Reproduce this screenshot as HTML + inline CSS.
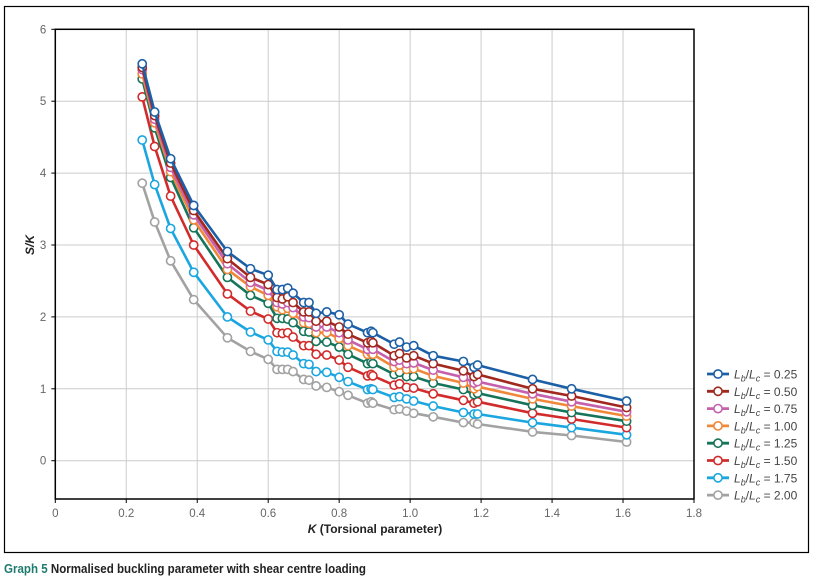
<!DOCTYPE html>
<html><head><meta charset="utf-8"><style>
body{margin:0;background:#fff;width:818px;height:578px;overflow:hidden;font-family:"Liberation Sans",sans-serif}
</style></head><body>
<svg id="chart" width="818" height="578" xmlns="http://www.w3.org/2000/svg" font-family="Liberation Sans, sans-serif">
<rect x="4.5" y="6.5" width="804" height="546" fill="none" stroke="#000" stroke-width="1.2"/>
<g id="grid"></g>
<g id="series"></g>
<g id="axes"></g>
<text transform="translate(34,245) rotate(-90)" text-anchor="middle" font-size="12" font-weight="bold" font-style="italic" fill="#222">S/K</text>
<text x="375" y="533" text-anchor="middle" font-size="12" font-weight="bold" fill="#222"><tspan font-style="italic">K</tspan> (Torsional parameter)</text>
<g id="legend"></g>
<text x="4" y="573" font-size="12.5" font-weight="bold" fill="#222" textLength="362" lengthAdjust="spacingAndGlyphs"><tspan fill="#1e7b6e">Graph 5</tspan> Normalised buckling parameter with shear centre loading</text>
</svg>
<script>
const kValues=[0.245,0.28,0.325,0.39,0.485,0.55,0.60,0.625,0.64,0.655,0.67,0.70,0.715,0.735,0.765,0.80,0.825,0.88,0.89,0.895,0.955,0.97,0.99,1.01,1.065,1.15,1.18,1.19,1.345,1.455,1.61];
const s025=[5.52,4.85,4.2,3.55,2.91,2.67,2.58,2.38,2.38,2.4,2.33,2.2,2.2,2.05,2.07,2.03,1.9,1.78,1.8,1.78,1.62,1.65,1.58,1.6,1.46,1.38,1.3,1.33,1.13,1.0,0.83];
const s050=[5.47,4.8,4.14,3.48,2.81,2.55,2.45,2.27,2.25,2.28,2.2,2.07,2.07,1.94,1.94,1.86,1.76,1.64,1.66,1.64,1.46,1.49,1.43,1.46,1.35,1.25,1.17,1.2,1.0,0.9,0.74];
const s075=[5.44,4.75,4.08,3.42,2.74,2.48,2.37,2.2,2.18,2.2,2.13,2.0,1.99,1.86,1.86,1.78,1.68,1.55,1.58,1.55,1.38,1.4,1.35,1.36,1.26,1.16,1.08,1.1,0.93,0.82,0.68];
const s100=[5.38,4.7,4.02,3.35,2.66,2.42,2.3,2.14,2.1,2.12,2.05,1.92,1.91,1.78,1.78,1.7,1.6,1.48,1.5,1.48,1.3,1.33,1.27,1.28,1.18,1.08,1.0,1.03,0.86,0.76,0.62];
const s125=[5.31,4.63,3.94,3.24,2.55,2.3,2.19,1.98,1.98,1.97,1.92,1.8,1.79,1.66,1.65,1.58,1.48,1.35,1.37,1.35,1.2,1.23,1.17,1.17,1.08,0.99,0.92,0.94,0.77,0.67,0.55];
const s150=[5.06,4.37,3.68,3.0,2.32,2.08,1.97,1.78,1.77,1.78,1.72,1.6,1.6,1.48,1.47,1.4,1.3,1.18,1.2,1.18,1.05,1.07,1.02,1.01,0.93,0.84,0.8,0.82,0.66,0.58,0.46];
const s175=[4.46,3.84,3.23,2.62,2.0,1.79,1.68,1.52,1.51,1.51,1.47,1.35,1.34,1.24,1.23,1.16,1.1,0.99,1.0,0.99,0.88,0.89,0.86,0.83,0.76,0.67,0.65,0.65,0.53,0.46,0.36];
const s200=[3.86,3.32,2.78,2.24,1.71,1.52,1.41,1.27,1.27,1.27,1.24,1.13,1.12,1.04,1.02,0.96,0.91,0.8,0.82,0.8,0.71,0.72,0.69,0.66,0.61,0.53,0.53,0.51,0.40,0.35,0.26];
const seriesLabels=["0.25","0.50","0.75","1.00","1.25","1.50","1.75","2.00"];
const xTicks=[0,0.2,0.4,0.6,0.8,1.0,1.2,1.4,1.6,1.8];
const xTickLabels=["0","0.2","0.4","0.6","0.8","1.0","1.2","1.4","1.6","1.8"];
const yTicks=[0,1,2,3,4,5,6];

const allSeries=[s025,s050,s075,s100,s125,s150,s175,s200];
const colors=["#1b5fa6","#a1281f","#c560ad","#f0883a","#15745a","#d22b2b","#1ba6e0","#a2a2a2"];
const L=55.3,R=694,T=29.3,B=499;
const xS=v=>L+v*(R-L)/1.8;
const yS=v=>460.7-v*71.9;
const NS="http://www.w3.org/2000/svg";
function mk(tag,attrs,parent){const e=document.createElementNS(NS,tag);for(const k in attrs)e.setAttribute(k,attrs[k]);parent.appendChild(e);return e;}
const grid=document.getElementById('grid'),axes=document.getElementById('axes'),sg=document.getElementById('series'),lg=document.getElementById('legend');
xTicks.forEach((t,i)=>{
  const g=mk('line',{x1:xS(t),x2:xS(t),y1:T,y2:B,stroke:'#cccccc','stroke-width':1},grid);
  
  
  const tk=mk('line',{x1:xS(t),x2:xS(t),y1:B,y2:B+4,stroke:'#000','stroke-width':1},axes);
  
  
  const tx=mk('text',{x:xS(t),y:B+18,'text-anchor':'middle','font-size':11.5,fill:'#666'},axes);
  
  
  tx.textContent=xTickLabels[i];
});
yTicks.forEach(t=>{
  const g=mk('line',{x1:L,x2:R,y1:yS(t),y2:yS(t),stroke:'#cccccc','stroke-width':1},grid);
  
  
  const tk=mk('line',{x1:L-4,x2:L,y1:yS(t),y2:yS(t),stroke:'#000','stroke-width':1},axes);
  
  
  const tx=mk('text',{x:L-9,y:yS(t)+4,'text-anchor':'end','font-size':11.5,fill:'#666'},axes);
  
  
  tx.textContent=String(t);
});
const box=mk('rect',{x:L,y:T,width:R-L,height:B-T,fill:'none',stroke:'#000','stroke-width':1.5},axes);


allSeries.slice().reverse().forEach((vals,ri)=>{
  const si=allSeries.length-1-ri;
  const g=mk('g',{},sg);
  
  
  const pts=vals.map((v,i)=>xS(kValues[i]).toFixed(1)+','+yS(v).toFixed(1)).join(' ');
  const pl=mk('polyline',{points:pts,fill:'none',stroke:colors[si],'stroke-width':2.6,'stroke-linejoin':'round'},g);
  
  
  vals.forEach((v,i)=>{
    const c=mk('circle',{cx:xS(kValues[i]),cy:yS(v),r:4.1,fill:'#fff',stroke:colors[si],'stroke-width':1.6},g);
    
    
  });
});
seriesLabels.forEach((lab,i)=>{
  const y=374+i*17.3;
  const g=mk('g',{},lg);
  
  
  mk('line',{x1:707,x2:729,y1:y,y2:y,stroke:colors[i],'stroke-width':2.8},g);
  mk('circle',{cx:718,cy:y,r:4.1,fill:'#fff',stroke:colors[i],'stroke-width':1.6},g);
  const t=mk('text',{x:734,y:y+4.5,'font-size':12,fill:'#444'},g);
  t.innerHTML='<tspan font-style="italic">L</tspan><tspan font-style="italic" font-size="9" dy="3">b</tspan><tspan dy="-3">/</tspan><tspan font-style="italic">L</tspan><tspan font-style="italic" font-size="9" dy="3">c</tspan><tspan dy="-3"> = '+lab+'</tspan>';
});
</script>
</body></html>
